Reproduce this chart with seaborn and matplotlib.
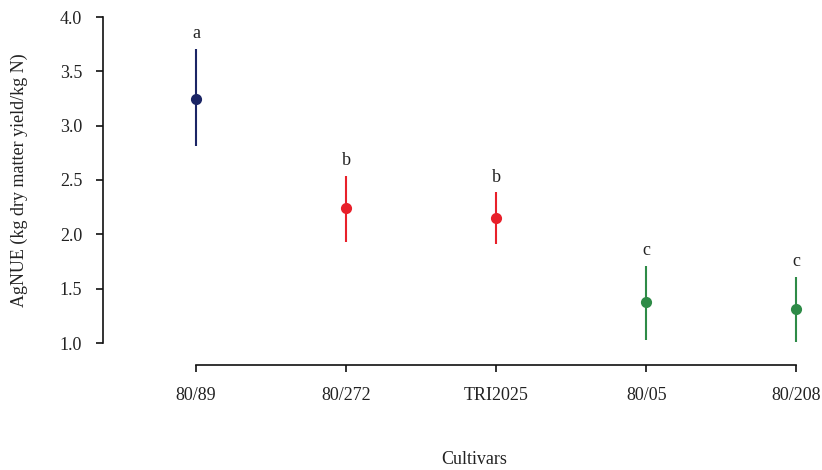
import matplotlib
matplotlib.use("Agg")
import matplotlib.pyplot as plt
import seaborn as sns
import pandas as pd

cultivars = ["80/89", "80/272", "TRI2025", "80/05", "80/208"]
means = [3.25, 2.24, 2.15, 1.38, 1.31]
upper = [3.71, 2.54, 2.39, 1.71, 1.61]
lower = [2.81, 1.93, 1.91, 1.03, 1.01]
letters = ["a", "b", "b", "c", "c"]
colors = ["#1b2565", "#e8202a", "#e8202a", "#2e8b47", "#2e8b47"]

sns.set_theme(style="ticks")
plt.rcParams["font.family"] = ["Liberation Serif", "DejaVu Serif"]

df = pd.DataFrame({"Cultivars": cultivars, "mean": means, "upper": upper,
                   "lower": lower, "letter": letters, "color": colors})

fig = plt.figure(figsize=(8.22, 4.70), dpi=100)
ax = fig.add_axes([103/822, 1-343/470, 1-103/822, (343-17)/470])

for i, row in df.iterrows():
    ax.vlines(i, row["lower"], row["upper"], color=row["color"], lw=1.5,
              clip_on=False, zorder=2)

sns.pointplot(data=df, x="Cultivars", y="mean", hue="Cultivars",
              palette=dict(zip(cultivars, colors)), linestyle="none",
              errorbar=None, markers="o", markersize=6, legend=False, ax=ax,
              zorder=3)

for i, row in df.iterrows():
    ax.annotate(row["letter"], (i, row["upper"]), xytext=(0, 7.5),
                textcoords="offset points", ha="center", va="baseline",
                fontsize=13, color="#222222")

ax.set_ylim(1.0, 4.0)
ax.set_xlim(-0.62, 4.17)
ax.set_yticks([1.0, 1.5, 2.0, 2.5, 3.0, 3.5, 4.0])
ax.set_yticklabels([f"{v:.1f}" for v in [1.0, 1.5, 2.0, 2.5, 3.0, 3.5, 4.0]])

for s in ["top", "right"]:
    ax.spines[s].set_visible(False)
ax.spines["bottom"].set_position(("outward", 15.5))
ax.spines["bottom"].set_bounds(0, 4)
ax.spines["left"].set_bounds(1.0, 4.0)
for s in ["left", "bottom"]:
    ax.spines[s].set_color("#111111")
    ax.spines[s].set_linewidth(1.2)

ax.tick_params(axis="both", direction="out", length=5, width=1.2,
               color="#111111", labelsize=13, labelcolor="#222222")
ax.tick_params(axis="y", pad=10)
ax.tick_params(axis="x", pad=11)

ax.set_ylabel("AgNUE (kg dry matter yield/kg N)", fontsize=13, color="#222222")
ax.set_xlabel("Cultivars", fontsize=13, color="#222222")
ax.yaxis.set_label_coords(-75/719, 0.5)
ax.xaxis.set_label_coords((474-103)/719, -(451-343)/326)

fig.savefig("out.png", dpi=100)
